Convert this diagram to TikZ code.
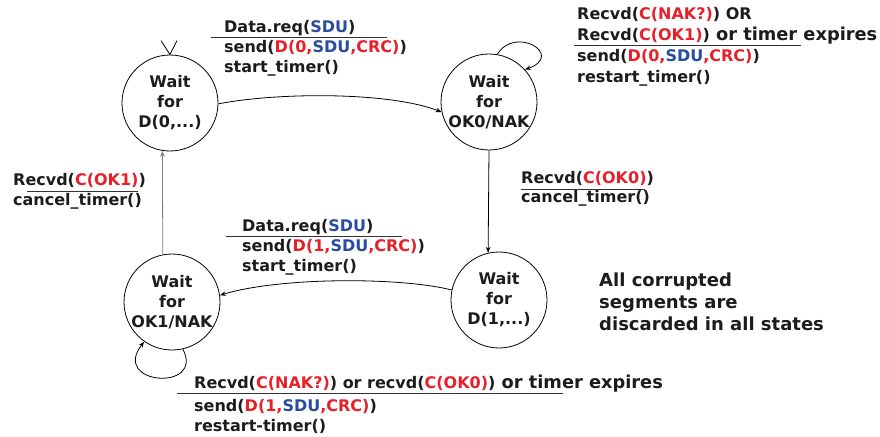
\documentclass[tikz,border=0pt]{standalone}
\usepackage{fontspec}
\usetikzlibrary{arrows.meta}
\setmainfont{DejaVu Sans}
\definecolor{txtblack}{HTML}{1C1C1C}
\definecolor{redtx}{HTML}{E8202A}
\definecolor{bluetx}{HTML}{2B4C9F}
\definecolor{greyline}{HTML}{808080}
\newcommand\Rtx[1]{\textcolor{redtx}{#1}}
\newcommand\Btx[1]{\textcolor{bluetx}{#1}}
\newcommand\Wide[1]{{\fontsize{17.8}{20}\selectfont #1}}
\begin{document}
\begin{tikzpicture}[x=1pt,y=-1pt,
  state/.style={circle,draw,line width=0.8pt,minimum size=96pt,inner sep=-12pt,
    align=center,font=\bfseries\fontsize{16}{20}\selectfont,text=txtblack},
  lbl/.style={anchor=base west,inner sep=0pt,font=\bfseries\fontsize{16}{20}\selectfont,text=txtblack},
  note/.style={anchor=base west,inner sep=0pt,font=\bfseries\fontsize{18}{22}\selectfont,text=txtblack},
  rule/.style={line width=0.8pt,draw=black!80},
  edge/.style={line width=0.8pt,-{Stealth[length=6pt,width=4.5pt]}},
]
\useasboundingbox (0,0) rectangle (880,436);

% states
\node[state] (S0) at (170,103) {Wait\\for\\D(0,...)};
\node[state] (S1) at (489,102) {Wait\\for\\OK0/NAK};
\node[state] (S2) at (499,300) {Wait\\for\\D(1,...)};
\node[state] (S3) at (172,302) {Wait\\for\\OK1/NAK};

% initial marker
\draw[line width=0.8pt] ([shift={(-9,-14)}]S0.north) -- (S0.north) -- ([shift={(7,-14)}]S0.north);

% transitions
\draw[edge] (S0.-1) .. controls (280,92) and (390,92) .. (S1.192);
\draw[edge] (S1.south) -- (S2.103);
\draw[edge] (S2.168) .. controls (400,277) and (280,277) .. (S3.8);
\draw[edge,draw=greyline] (S3.101) -- (S0.261.5);
\draw[edge] (S1.80) .. controls (515,25) and (565,55) .. (S1.42);
\draw[edge] (S3.-77) .. controls (205,392) and (110,385) .. (S3.-125);

% label S0 -> S1
\node[lbl] (a1) at (224,32.5) {Data.req(\Btx{SDU})};
\node[lbl] (a2) at (224,52.5) {send(\Rtx{D(0,}\Btx{SDU}\Rtx{,CRC)})};
\node[lbl] (a3) at (224,72.5) {start\_timer()};
\draw[rule] (211,37) -- (387,37);

% label S1 self loop
\node[lbl] (b1) at (577,20) {Recvd(\Rtx{C(NAK?)}) OR};
\node[lbl] (b2) at (577,41) {Recvd(\Rtx{C(OK1)})\Wide{ or timer expires}};
\node[lbl] (b3) at (577,62) {send(\Rtx{D(0,}\Btx{SDU}\Rtx{,CRC)})};
\node[lbl] (b4) at (577,82) {restart\_timer()};
\draw[rule] (574,45) -- (801,45);

% label S1 -> S2
\node[lbl] (c1) at (521,183) {Recvd(\Rtx{C(OK0)})};
\node[lbl] (c2) at (521,202) {cancel\_timer()};
\draw[rule] (521,189) -- (645,189);

% label S2 -> S3
\node[lbl] (d1) at (242,231.5) {Data.req(\Btx{SDU})};
\node[lbl] (d2) at (242,251) {send(\Rtx{D(1,}\Btx{SDU}\Rtx{,CRC)})};
\node[lbl] (d3) at (242,271) {start\_timer()};
\draw[rule] (226,236) -- (402,236);

% label S3 -> S0
\node[lbl] (e1) at (13,185.5) {Recvd(\Rtx{C(OK1)})};
\node[lbl] (e2) at (13,205) {cancel\_timer()};
\draw[rule] (27,191) -- (138,191);

% label S3 self loop
\node[lbl] (f1) at (194,388) {Recvd(\Rtx{C(NAK?)}) or recvd(\Rtx{C(OK0)})\Wide{ or timer expires}};
\node[lbl] (f2) at (194,411.5) {send(\Rtx{D(1,}\Btx{SDU}\Rtx{,CRC)})};
\node[lbl] (f3) at (194,431.5) {restart-timer()};
\draw[rule] (177,393) -- (563,393);

% note
\node[note] (n1) at (599,286) {All corrupted};
\node[note] (n2) at (599,308) {segments are};
\node[note] (n3) at (599,330) {discarded in all states};
\end{tikzpicture}
\end{document}
